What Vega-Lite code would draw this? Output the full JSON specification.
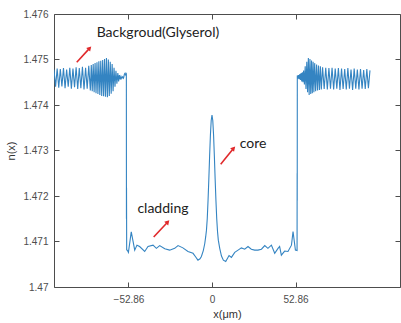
{
  "$schema": "https://vega.github.io/schema/vega-lite/v6.json",
  "width": 346,
  "height": 273,
  "padding": {"left": 54, "top": 14, "right": 1, "bottom": 36},
  "autosize": {"type": "none"},
  "background": "white",
  "config": {
    "view": {"stroke": null},
    "axis": {
      "domainColor": "#4d4d4d",
      "tickColor": "#4d4d4d",
      "tickSize": -5,
      "grid": false,
      "labelFont": "Liberation Sans",
      "labelFontSize": 10,
      "labelColor": "#4d4d4d",
      "titleFont": "Liberation Sans",
      "titleFontSize": 11,
      "titleFontWeight": "normal",
      "titleColor": "#333333"
    }
  },
  "datasets": {
    "profile": [
      {"x": -100, "n": 1.47478}, {"x": -99, "n": 1.4744}, {"x": -98, "n": 1.4748}, {"x": -97, "n": 1.47438},
      {"x": -96, "n": 1.47479}, {"x": -95, "n": 1.47441}, {"x": -94, "n": 1.47481}, {"x": -93, "n": 1.47437},
      {"x": -92, "n": 1.47478}, {"x": -91, "n": 1.4744}, {"x": -90, "n": 1.47482}, {"x": -89, "n": 1.47436},
      {"x": -88, "n": 1.4748}, {"x": -87, "n": 1.47439}, {"x": -86, "n": 1.47483}, {"x": -85, "n": 1.47435},
      {"x": -84, "n": 1.47481}, {"x": -83, "n": 1.47437}, {"x": -82, "n": 1.47484}, {"x": -81, "n": 1.47434},
      {"x": -80, "n": 1.47482}, {"x": -79, "n": 1.47436}, {"x": -78, "n": 1.47486}, {"x": -77, "n": 1.47432},
      {"x": -76.4, "n": 1.47488}, {"x": -75.8, "n": 1.4743}, {"x": -75.2, "n": 1.4749}, {"x": -74.6, "n": 1.47428},
      {"x": -74.0, "n": 1.47492}, {"x": -73.4, "n": 1.47426}, {"x": -72.8, "n": 1.47494}, {"x": -72.2, "n": 1.47424},
      {"x": -71.6, "n": 1.47496}, {"x": -71.0, "n": 1.47422}, {"x": -70.4, "n": 1.47497}, {"x": -69.8, "n": 1.4742},
      {"x": -69.2, "n": 1.47499}, {"x": -68.6, "n": 1.47419}, {"x": -68.0, "n": 1.47501}, {"x": -67.4, "n": 1.47418},
      {"x": -66.8, "n": 1.47503}, {"x": -66.2, "n": 1.47417}, {"x": -65.6, "n": 1.475}, {"x": -65.0, "n": 1.4742},
      {"x": -64.4, "n": 1.47495}, {"x": -63.8, "n": 1.47425}, {"x": -63.2, "n": 1.4749}, {"x": -62.6, "n": 1.4743},
      {"x": -62.0, "n": 1.47482}, {"x": -61.4, "n": 1.4744}, {"x": -60.8, "n": 1.47475}, {"x": -60.2, "n": 1.47447},
      {"x": -59.6, "n": 1.4747}, {"x": -59.1, "n": 1.47452}, {"x": -58.6, "n": 1.47466}, {"x": -58.1, "n": 1.47456},
      {"x": -57.6, "n": 1.47463}, {"x": -57.1, "n": 1.47458}, {"x": -56.6, "n": 1.47462}, {"x": -56.0, "n": 1.47459},
      {"x": -55.4, "n": 1.47468}, {"x": -55.0, "n": 1.4747}, {"x": -54.6, "n": 1.47466},
      {"x": -54.2, "n": 1.47468}, {"x": -54.15, "n": 1.4715}, {"x": -54.1, "n": 1.47218}, {"x": -54.0, "n": 1.47082},
      {"x": -53.5, "n": 1.4708}, {"x": -52.9, "n": 1.47076}, {"x": -51.1, "n": 1.47121}, {"x": -48.9, "n": 1.47081},
      {"x": -47.5, "n": 1.47092}, {"x": -45.8, "n": 1.47089}, {"x": -42.6, "n": 1.47078}, {"x": -40.5, "n": 1.47089},
      {"x": -37.3, "n": 1.47092}, {"x": -35.2, "n": 1.47085}, {"x": -33.1, "n": 1.47091}, {"x": -29.9, "n": 1.47084},
      {"x": -26.8, "n": 1.47081}, {"x": -23.6, "n": 1.47085}, {"x": -21.5, "n": 1.47091}, {"x": -18.4, "n": 1.47086},
      {"x": -15.2, "n": 1.47078}, {"x": -12.0, "n": 1.47074}, {"x": -10.3, "n": 1.47066}, {"x": -8.9, "n": 1.47059},
      {"x": -7.6, "n": 1.47062}, {"x": -6.7, "n": 1.47067}, {"x": -5.5, "n": 1.4708}, {"x": -4.6, "n": 1.47095},
      {"x": -4.0, "n": 1.4711}, {"x": -3.5, "n": 1.47125}, {"x": -3.0, "n": 1.4715}, {"x": -2.5, "n": 1.4719},
      {"x": -2.0, "n": 1.47237}, {"x": -1.5, "n": 1.47288}, {"x": -1.0, "n": 1.47334}, {"x": -0.5, "n": 1.47366},
      {"x": 0, "n": 1.47378}, {"x": 0.5, "n": 1.47366}, {"x": 1.0, "n": 1.47334}, {"x": 1.5, "n": 1.47288},
      {"x": 2.0, "n": 1.47237}, {"x": 2.5, "n": 1.4719}, {"x": 3.0, "n": 1.4715}, {"x": 3.5, "n": 1.47122},
      {"x": 4.0, "n": 1.47103}, {"x": 4.9, "n": 1.47085}, {"x": 6.0, "n": 1.47068}, {"x": 7.2, "n": 1.47059},
      {"x": 8.7, "n": 1.47056}, {"x": 10.8, "n": 1.47069}, {"x": 12.3, "n": 1.47065}, {"x": 14.4, "n": 1.47076},
      {"x": 16.5, "n": 1.47081}, {"x": 18.6, "n": 1.47086}, {"x": 20.7, "n": 1.47083}, {"x": 22.8, "n": 1.47089},
      {"x": 24.9, "n": 1.47083}, {"x": 27.0, "n": 1.47081}, {"x": 29.1, "n": 1.47081}, {"x": 31.3, "n": 1.47083},
      {"x": 33.4, "n": 1.47091}, {"x": 35.4, "n": 1.47085}, {"x": 37.6, "n": 1.47092}, {"x": 39.7, "n": 1.47074},
      {"x": 41.8, "n": 1.47085}, {"x": 42.8, "n": 1.47089}, {"x": 43.9, "n": 1.4707}, {"x": 46.0, "n": 1.47079},
      {"x": 48.1, "n": 1.47078}, {"x": 50.3, "n": 1.47092}, {"x": 51.3, "n": 1.47122}, {"x": 52.8, "n": 1.47081},
      {"x": 53.85, "n": 1.4708}, {"x": 53.9, "n": 1.4725}, {"x": 53.95, "n": 1.4719}, {"x": 54.0, "n": 1.47465},
      {"x": 54.4, "n": 1.47458}, {"x": 54.8, "n": 1.47466}, {"x": 55.2, "n": 1.47457}, {"x": 55.6, "n": 1.47468},
      {"x": 56.0, "n": 1.47455}, {"x": 56.4, "n": 1.4747}, {"x": 56.8, "n": 1.47452}, {"x": 57.2, "n": 1.47472},
      {"x": 57.6, "n": 1.4745}, {"x": 58.0, "n": 1.47476}, {"x": 58.5, "n": 1.47445}, {"x": 59.0, "n": 1.47485},
      {"x": 59.5, "n": 1.47435}, {"x": 60.0, "n": 1.47495}, {"x": 60.5, "n": 1.47428}, {"x": 61.0, "n": 1.47503},
      {"x": 61.5, "n": 1.47422}, {"x": 62.0, "n": 1.47501}, {"x": 62.5, "n": 1.47424}, {"x": 63.0, "n": 1.47498},
      {"x": 63.5, "n": 1.47426}, {"x": 64.0, "n": 1.47495}, {"x": 64.5, "n": 1.47428}, {"x": 65.0, "n": 1.47492},
      {"x": 65.6, "n": 1.4743}, {"x": 66.2, "n": 1.47489}, {"x": 66.8, "n": 1.47432}, {"x": 67.4, "n": 1.47487},
      {"x": 68.0, "n": 1.47433}, {"x": 68.6, "n": 1.47485}, {"x": 69.2, "n": 1.47434}, {"x": 70, "n": 1.47483},
      {"x": 71, "n": 1.47435}, {"x": 72, "n": 1.47482}, {"x": 73, "n": 1.47434}, {"x": 74, "n": 1.47481},
      {"x": 75, "n": 1.47436}, {"x": 76, "n": 1.47482}, {"x": 77, "n": 1.47434}, {"x": 78, "n": 1.4748},
      {"x": 79, "n": 1.47436}, {"x": 80, "n": 1.47481}, {"x": 81, "n": 1.47433}, {"x": 82, "n": 1.4748},
      {"x": 83, "n": 1.47435}, {"x": 84, "n": 1.47479}, {"x": 85, "n": 1.47434}, {"x": 86, "n": 1.47481},
      {"x": 87, "n": 1.47436}, {"x": 88, "n": 1.47478}, {"x": 89, "n": 1.47433}, {"x": 90, "n": 1.4748},
      {"x": 91, "n": 1.47436}, {"x": 92, "n": 1.47478}, {"x": 93, "n": 1.47434}, {"x": 94, "n": 1.47479},
      {"x": 95, "n": 1.47436}, {"x": 96, "n": 1.47477}, {"x": 97, "n": 1.47435}, {"x": 98, "n": 1.47479},
      {"x": 99, "n": 1.47437}, {"x": 100, "n": 1.47476}
    ],
    "arrows": [
      {"x": -85.6, "n": 1.47494, "x2": -77.4, "n2": 1.47525},
      {"x": 5.5, "n": 1.4727, "x2": 13.7, "n2": 1.47305},
      {"x": -36.9, "n": 1.4711, "x2": -28.0, "n2": 1.47143}
    ],
    "labels": [
      {"x": -73.0, "n": 1.47558, "label": "Backgroud(Glyserol)"},
      {"x": 17.5, "n": 1.47314, "label": "core"},
      {"x": -47.2, "n": 1.47171, "label": "cladding"}
    ]
  },
  "layer": [
    {
      "data": {"name": "profile"},
      "mark": {"type": "line", "color": "#3484c2", "strokeWidth": 1.1, "clip": true},
      "encoding": {
        "x": {
          "field": "x", "type": "quantitative",
          "scale": {"domain": [-100, 119], "nice": false, "zero": false},
          "axis": {
            "orient": "bottom", "title": "x(μm)", "values": [-52.86, 0, 52.86],
            "labelExpr": "datum.value == 0 ? '0' : format(datum.value, '.2f')",
            "labelPadding": 12, "titlePadding": 4
          }
        },
        "y": {
          "field": "n", "type": "quantitative",
          "scale": {"domain": [1.47, 1.476], "nice": false, "zero": false},
          "axis": {
            "orient": "left", "title": "n(x)",
            "values": [1.47, 1.471, 1.472, 1.473, 1.474, 1.475, 1.476],
            "format": "~g", "labelPadding": 11, "titlePadding": 6
          }
        }
      }
    },
    {
      "data": {"name": "arrows"},
      "mark": {"type": "rule", "color": "#e0292b", "strokeWidth": 1.6},
      "encoding": {
        "x": {
          "field": "x", "type": "quantitative",
          "axis": {"orient": "top", "title": null, "labels": false, "values": [-52.86, 0, 52.86]}
        },
        "y": {
          "field": "n", "type": "quantitative",
          "axis": {"orient": "right", "title": null, "labels": false,
                   "values": [1.47, 1.471, 1.472, 1.473, 1.474, 1.475, 1.476]}
        },
        "x2": {"field": "x2"},
        "y2": {"field": "n2"}
      }
    },
    {
      "data": {"name": "arrows"},
      "mark": {"type": "point", "shape": "triangle-up", "filled": true, "color": "#e0292b", "size": 28, "angle": 42, "opacity": 1},
      "encoding": {
        "x": {"field": "x2", "type": "quantitative", "axis": null},
        "y": {"field": "n2", "type": "quantitative", "axis": null}
      }
    },
    {
      "data": {"name": "labels"},
      "mark": {"type": "text", "align": "left", "baseline": "middle", "font": "Lato", "fontSize": 14, "color": "#222222"},
      "encoding": {
        "x": {"field": "x", "type": "quantitative", "axis": null},
        "y": {"field": "n", "type": "quantitative", "axis": null},
        "text": {"field": "label"}
      }
    }
  ],
  "resolve": {"axis": {"x": "independent", "y": "independent"}}
}
